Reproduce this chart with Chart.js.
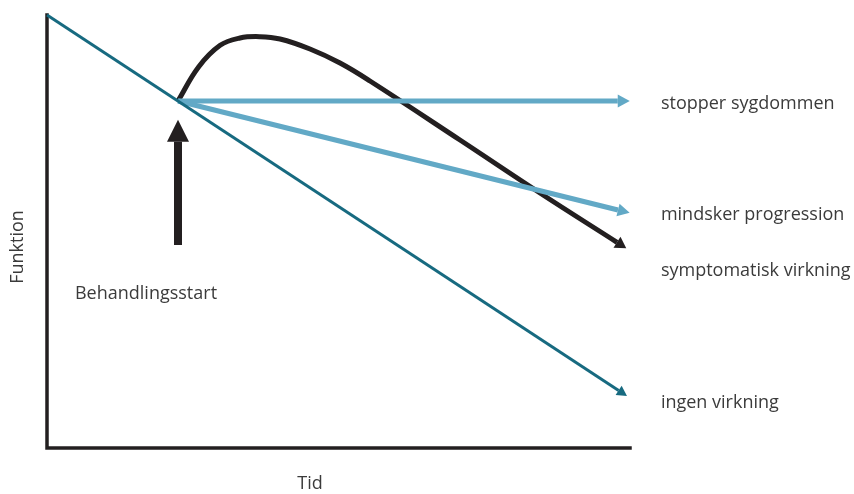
<!DOCTYPE html>
<html>
<head>
<meta charset="utf-8">
<script src="https://cdn.jsdelivr.net/npm/chart.js@4.4.1/dist/chart.umd.min.js"></script>
<style>
  body { margin: 0; background: #fff; }
  #wrap { width: 854px; height: 494px; }
</style>
</head>
<body>
<div id="wrap"><canvas id="chart"></canvas></div>
<script>
// values in a 0..100 "Tid" x 0..100 "Funktion" frame
const noEffectX = [0, 98.05];
const noEffectY = [100, 13.3];
const stopX = [22.47, 97.9];
const stopY = [80.14, 80.14];
const slowX = [22.47, 97.94];
const slowY = [80.14, 54.97];
const symptX = [22.47, 26.0, 29.7, 33.1, 36.54, 39.97, 45.11, 50.26, 55.4, 70.84, 84.56, 97.77];
const symptY = [80.14, 88.0, 93.0, 94.69, 95.0, 94.46, 92.15, 88.91, 84.76, 71.13, 58.89, 47.5];
const startX = [22.47, 22.47];
const startY = [46.9, 70.7];

const seriesLabels = ["ingen virkning", "stopper sygdommen", "mindsker progression", "symptomatisk virkning", "Behandlingsstart"];
const axisLabels = { x: "Tid", y: "Funktion" };

const teal = "#176a80";
const blue = "#62a9c6";
const black = "#231f20";
const textColor = "#3b3b3b";
const font = '18px "Open Sans", sans-serif';

function pts(xs, ys) {
  return xs.map((x, i) => ({ x: x, y: ys[i] }));
}

// where the text goes (data coords)
const textSpots = [
  { text: seriesLabels[1], x: 105.3, y: 79.4, align: "left" },
  { text: seriesLabels[2], x: 105.3, y: 53.8, align: "left" },
  { text: seriesLabels[3], x: 105.3, y: 40.9, align: "left" },
  { text: seriesLabels[0], x: 105.3, y: 10.4, align: "left" },
  { text: seriesLabels[4], x: 4.8, y: 35.6, align: "left" },
];

const arrowPlugin = {
  id: "arrows",
  afterDatasetsDraw(chart) {
    const ctx = chart.ctx;
    chart.data.datasets.forEach((ds, i) => {
      if (!ds.arrow) return;
      const els = chart.getDatasetMeta(i).data;
      const a = els[els.length - 2], b = els[els.length - 1];
      const dx = b.x - a.x, dy = b.y - a.y;
      const d = Math.hypot(dx, dy);
      const ux = dx / d, uy = dy / d;
      const len = ds.arrow.len, half = ds.arrow.half;
      const tx = b.x + ux * len, ty = b.y + uy * len;
      ctx.save();
      ctx.fillStyle = ds.borderColor;
      ctx.beginPath();
      ctx.moveTo(tx, ty);
      ctx.lineTo(b.x - uy * half, b.y + ux * half);
      ctx.lineTo(b.x + uy * half, b.y - ux * half);
      ctx.closePath();
      ctx.fill();
      ctx.restore();
    });
  },
};

const framePlugin = {
  id: "frame",
  beforeDatasetsDraw(chart) {
    const { ctx, chartArea: ca } = chart;
    ctx.save();
    ctx.strokeStyle = black;
    ctx.lineWidth = 3.5;
    ctx.lineCap = "square";
    ctx.beginPath();
    ctx.moveTo(ca.left, ca.top);
    ctx.lineTo(ca.left, ca.bottom);
    ctx.lineTo(ca.right, ca.bottom);
    ctx.stroke();
    ctx.restore();
  },
  afterDraw(chart) {
    const { ctx, scales } = chart;
    ctx.save();
    ctx.fillStyle = textColor;
    ctx.font = font;
    ctx.textBaseline = "middle";
    textSpots.forEach((t) => {
      ctx.textAlign = t.align;
      ctx.fillText(t.text, scales.x.getPixelForValue(t.x), scales.y.getPixelForValue(t.y));
    });
    ctx.textAlign = "center";
    ctx.fillText(axisLabels.x, 310, 484);
    ctx.translate(18, 247);
    ctx.rotate(-Math.PI / 2);
    ctx.fillText(axisLabels.y, 0, 0);
    ctx.restore();
  },
};

new Chart(document.getElementById("chart"), {
  type: "line",
  data: {
    datasets: [
      { data: pts(noEffectX, noEffectY), borderColor: teal, borderWidth: 3, arrow: { len: 10, half: 5.5 } },
      { data: pts(stopX, stopY), borderColor: blue, borderWidth: 5, arrow: { len: 12, half: 6.5 } },
      { data: pts(slowX, slowY), borderColor: blue, borderWidth: 5, arrow: { len: 12, half: 6.5 } },
      { data: pts(symptX, symptY), borderColor: black, borderWidth: 5, tension: 0.4, arrow: { len: 11, half: 6.5 } },
      { data: pts(startX, startY), borderColor: black, borderWidth: 8, arrow: { len: 22, half: 11 } },
    ],
  },
  options: {
    responsive: true,
    maintainAspectRatio: false,
    animation: false,
    layout: { padding: { left: 47, right: 224, top: 15, bottom: 46 } },
    elements: { point: { radius: 0 }, line: { borderCapStyle: "butt", fill: false } },
    datasets: { line: { clip: false } },
    plugins: { legend: { display: false }, tooltip: { enabled: false } },
    scales: {
      x: { type: "linear", min: 0, max: 100, display: false },
      y: { type: "linear", min: 0, max: 100, display: false },
    },
  },
  plugins: [framePlugin, arrowPlugin],
});
</script>
</body>
</html>
